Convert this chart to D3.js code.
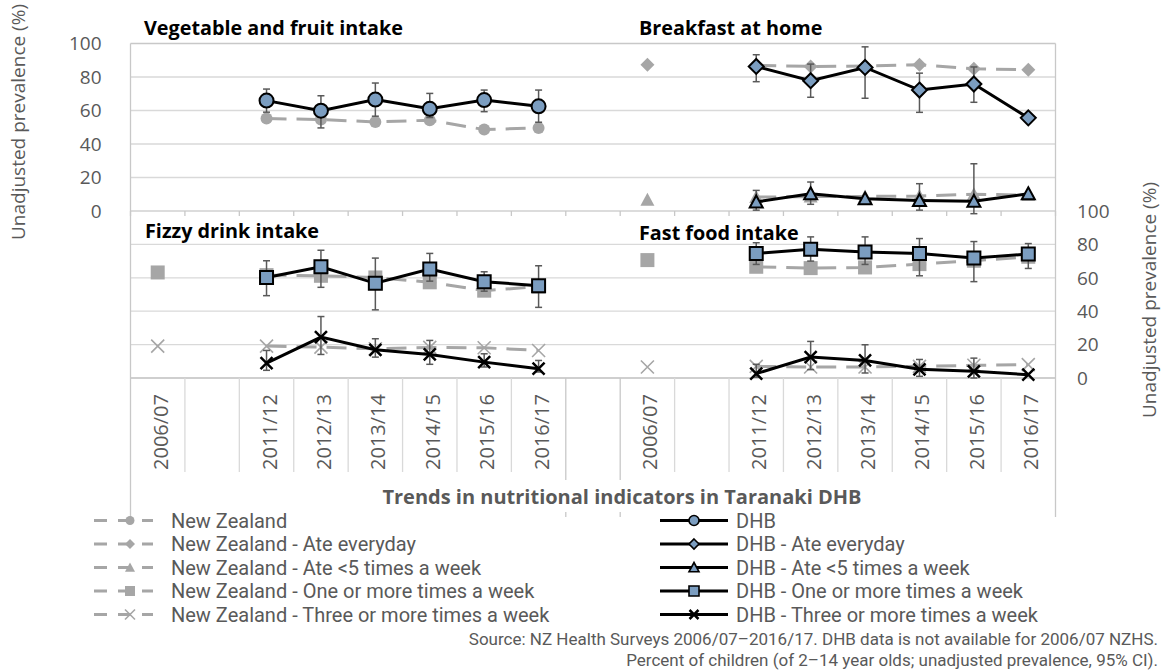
<!DOCTYPE html>
<html lang="en">
<head>
<meta charset="UTF-8">
<title>Trends in nutritional indicators in Taranaki DHB</title>
<style>
    body { margin: 0; background: #fff; }
    text { font-family: "Open Sans", "Noto Sans", sans-serif; }
    .legend text, .note text { font-family: Roboto, "Open Sans", sans-serif; }
</style>
</head>
<body>
<svg id="chart"></svg>
<script src="https://cdn.jsdelivr.net/npm/d3@7"></script>
<script>
// Category axis: two groups of survey years, "" = empty spacer slot
var xLabels = ["2006/07", "", "2011/12", "2012/13", "2013/14", "2014/15", "2015/16", "2016/17", "",
               "2006/07", "", "2011/12", "2012/13", "2013/14", "2014/15", "2015/16", "2016/17"];
var years = ["2006/07", "2011/12", "2012/13", "2013/14", "2014/15", "2015/16", "2016/17"];
var leftSlots = [0, 2, 3, 4, 5, 6, 7];
var rightSlots = [9, 11, 12, 13, 14, 15, 16];
var yTicks = [0, 20, 40, 60, 80, 100];

// Vegetable and fruit intake
var vegNZ = [null, 55.2, 54.6, 53.2, 54.2, 48.6, 49.6];
var vegDHB = [null, 65.9, 59.9, 66.5, 61.0, 66.2, 62.5];
var vegLo = [null, 59.0, 49.6, 56.6, 55.8, 59.3, 53.0];
var vegHi = [null, 72.8, 68.8, 76.4, 70.2, 72.2, 72.2];

// Breakfast at home
var everydayNZ = [87.3, 87.0, 86.3, 86.5, 87.3, 84.9, 84.3];
var everydayDHB = [null, 86.3, 77.8, 85.7, 72.2, 75.8, 55.6];
var everydayLo = [null, 77.2, 67.9, 67.3, 58.9, 64.9, null];
var everydayHi = [null, 93.3, 87.7, 98.0, 82.3, 86.0, null];
var under5NZ = [6.7, 8.3, 8.6, 8.7, 8.9, 10.0, 9.5];
var under5DHB = [null, 5.4, 10.3, 7.3, 6.3, 5.8, 10.3];
var under5Lo = [null, 0.5, 4.0, null, 0.5, -1.6, null];
var under5Hi = [null, 12.3, 17.3, null, 16.3, 28.2, null];

// Fizzy drink intake
var fizzyOneNZ = [63.2, 61.6, 61.2, 60.2, 57.3, 52.3, 54.7];
var fizzyOneDHB = [null, 60.2, 66.6, 56.7, 65.2, 57.7, 55.3];
var fizzyOneLo = [null, 49.3, 54.3, 40.8, 58.0, 52.0, 42.3];
var fizzyOneHi = [null, 70.2, 76.5, 71.8, 74.6, 63.6, 67.2];
var fizzyThreeNZ = [19.1, 19.1, 18.5, 17.5, 18.3, 18.1, 16.5];
var fizzyThreeDHB = [null, 8.9, 24.5, 16.9, 14.1, 9.5, 5.6];
var fizzyThreeLo = [null, 4.6, 14.1, 12.5, 8.2, 6.6, 3.6];
var fizzyThreeHi = [null, 16.5, 36.8, 23.5, 22.5, 14.5, 10.5];

// Fast food intake
var fastOneNZ = [70.6, 66.6, 65.8, 66.2, 68.2, 70.2, 72.6];
var fastOneDHB = [null, 74.6, 77.1, 75.5, 74.6, 71.8, 74.2];
var fastOneLo = [null, 68.0, 70.0, 68.0, 61.2, 57.7, 65.6];
var fastOneHi = [null, 81.0, 84.5, 84.5, 83.5, 81.7, 80.5];
var fastThreeNZ = [6.6, 7.0, 6.6, 6.6, 7.0, 7.6, 8.0];
var fastThreeDHB = [null, 2.6, 12.5, 10.5, 5.2, 4.0, 2.0];
var fastThreeLo = [null, 0.5, 5.0, 3.0, 1.0, 0.0, null];
var fastThreeHi = [null, 8.2, 21.9, 19.9, 11.1, 11.9, null];

var legendShapes = ["circle", "diamond", "triangle", "square", "cross"];
var legendNZ = ["New Zealand", "New Zealand - Ate everyday", "New Zealand - Ate <5 times a week",
                "New Zealand - One or more times a week", "New Zealand - Three or more times a week"];
var legendDHB = ["DHB", "DHB - Ate everyday", "DHB - Ate <5 times a week",
                 "DHB - One or more times a week", "DHB - Three or more times a week"];

var width = 1163, height = 670;
var grey = "#595959", nzColor = "#a6a6a6", dhbFill = "#7b9dc0";

var svg = d3.select("#chart").attr("width", width).attr("height", height);
svg.append("rect").attr("width", width).attr("height", height).attr("fill", "#fff");

var x = d3.scaleBand().domain(d3.range(xLabels.length)).range([130.5, 1055.5]);
var yTop = d3.scaleLinear().domain([0, 100]).range([211, 43.5]);
var yBot = d3.scaleLinear().domain([0, 100]).range([378, 211]);
var cx = function (slot) { return x(slot) + x.bandwidth() / 2; };

var panels = [
    { title: "Vegetable and fruit intake", tx: 144, ty: 35, slots: leftSlots, y: yTop,
      series: [{ shape: "circle", nz: vegNZ, dhb: vegDHB, lo: vegLo, hi: vegHi }] },
    { title: "Breakfast at home", tx: 639, ty: 35, slots: rightSlots, y: yTop,
      series: [{ shape: "diamond", nz: everydayNZ, dhb: everydayDHB, lo: everydayLo, hi: everydayHi },
               { shape: "triangle", nz: under5NZ, dhb: under5DHB, lo: under5Lo, hi: under5Hi }] },
    { title: "Fizzy drink intake", tx: 145, ty: 238, slots: leftSlots, y: yBot,
      series: [{ shape: "square", nz: fizzyOneNZ, dhb: fizzyOneDHB, lo: fizzyOneLo, hi: fizzyOneHi },
               { shape: "cross", nz: fizzyThreeNZ, dhb: fizzyThreeDHB, lo: fizzyThreeLo, hi: fizzyThreeHi }] },
    { title: "Fast food intake", tx: 639, ty: 240, slots: rightSlots, y: yBot,
      series: [{ shape: "square", nz: fastOneNZ, dhb: fastOneDHB, lo: fastOneLo, hi: fastOneHi },
               { shape: "cross", nz: fastThreeNZ, dhb: fastThreeDHB, lo: fastThreeLo, hi: fastThreeHi }] }
];

// marker outlines
function shapePath(type, s) {
    if (type == "circle") return d3.symbol(d3.symbolCircle, Math.PI * s * s)();
    if (type == "square") return "M" + -s + "," + -s + "H" + s + "V" + s + "H" + -s + "Z";
    if (type == "diamond") return "M0," + -s + "L" + s + ",0L0," + s + "L" + -s + ",0Z";
    if (type == "triangle") return "M0," + -s + "L" + s + "," + s * 0.85 + "L" + -s + "," + s * 0.85 + "Z";
    return "M" + -s + "," + -s + "L" + s + "," + s + "M" + -s + "," + s + "L" + s + "," + -s;
}
var nzSize = { circle: 6, square: 7, diamond: 7, triangle: 7, cross: 6.5 };
var dhbSize = { circle: 7, square: 6.5, diamond: 7.5, triangle: 6.5, cross: 6 };

function drawMarker(g, type, px, py, s, isDHB, sw) {
    var p = g.append("path").attr("d", shapePath(type, s))
        .attr("transform", "translate(" + px + "," + py + ")");
    if (type == "cross") {
        p.attr("fill", "none").attr("stroke", isDHB ? "#000" : nzColor).attr("stroke-width", isDHB ? 2.5 : 1.6);
    } else if (isDHB) {
        p.attr("fill", dhbFill).attr("stroke", "#000").attr("stroke-width", sw || 2);
    } else {
        p.attr("fill", nzColor);
    }
}

// ---- gridlines and frame ----
var grid = svg.append("g");
yTicks.slice(1, 5).forEach(function (t) {
    [yTop, yBot].forEach(function (y) {
        grid.append("line").attr("x1", 130.5).attr("x2", 1055.5)
            .attr("y1", y(t)).attr("y2", y(t)).attr("stroke", "#d9d9d9").attr("stroke-width", 1.3);
    });
});
grid.append("line").attr("x1", 130.5).attr("x2", 1055.5).attr("y1", yTop(0)).attr("y2", yTop(0))
    .attr("stroke", "#d0d0d0").attr("stroke-width", 1.3);
grid.append("line").attr("x1", 130.5).attr("x2", 1055.5).attr("y1", yTop(100)).attr("y2", yTop(100))
    .attr("stroke", "#c8c8c8").attr("stroke-width", 1.3);
grid.append("line").attr("x1", 130.5).attr("x2", 1055.5).attr("y1", yBot(0)).attr("y2", yBot(0))
    .attr("stroke", "#bfbfbf").attr("stroke-width", 1.5);

// category boundaries: short ticks at the middle axis, separators under the bottom axis
var bounds = d3.range(xLabels.length + 1);
var outer = [0, 8, 9, xLabels.length];
bounds.forEach(function (b) {
    var bx = b < xLabels.length ? x(b) : x.range()[1];
    grid.append("line").attr("x1", bx).attr("x2", bx).attr("y1", yTop(0)).attr("y2", yTop(0) + 5)
        .attr("stroke", "#c8c8c8").attr("stroke-width", 1.3);
    var isOuter = outer.indexOf(b) >= 0;
    grid.append("line").attr("x1", bx).attr("x2", bx)
        .attr("y1", (b == 0 || b == xLabels.length) ? yTop(100) : yBot(0))
        .attr("y2", isOuter ? 517 : 472)
        .attr("stroke", isOuter ? "#c8c8c8" : "#d9d9d9").attr("stroke-width", 1.3);
});

// ---- axis labels ----
var axisText = svg.append("g").attr("fill", grey).style("font-size", "19px");
yTicks.forEach(function (t) {
    axisText.append("text").attr("x", 101.5).attr("y", yTop(t)).attr("dy", "0.36em")
        .attr("text-anchor", "end").text(t);
    axisText.append("text").attr("x", 1077).attr("y", yBot(t)).attr("dy", "0.36em")
        .attr("text-anchor", "start").text(t);
});
axisText.append("text").attr("transform", "translate(25,122) rotate(-90)")
    .attr("text-anchor", "middle").text("Unadjusted prevalence (%)");
axisText.append("text").attr("transform", "translate(1156,300) rotate(-90)")
    .attr("text-anchor", "middle").text("Unadjusted prevalence (%)");

xLabels.forEach(function (lab, i) {
    if (!lab) return;
    svg.append("text").attr("transform", "translate(" + (cx(i) + 10) + ",394) rotate(-90)")
        .attr("text-anchor", "end").attr("fill", grey).style("font-size", "20px").text(lab);
});

// ---- series ----
var plot = svg.append("g");
panels.forEach(function (p) {
    var y = p.y;
    p.series.forEach(function (s) {
        var nzPts = years.map(function (yr, i) { return { i: i, x: cx(p.slots[i]), v: s.nz[i] }; })
            .filter(function (d) { return d.v != null; });
        var dhbPts = years.map(function (yr, i) {
            return { i: i, x: cx(p.slots[i]), v: s.dhb[i], lo: s.lo[i], hi: s.hi[i] };
        }).filter(function (d) { return d.v != null; });

        var line = d3.line().x(function (d) { return d.x; }).y(function (d) { return y(d.v); });

        // New Zealand: dashed grey, 2006/07 stands alone
        plot.append("path").datum(nzPts.filter(function (d) { return d.i > 0; }))
            .attr("d", line).attr("fill", "none").attr("stroke", nzColor)
            .attr("stroke-width", 3).attr("stroke-dasharray", "20,10");
        nzPts.forEach(function (d) { drawMarker(plot, s.shape, d.x, y(d.v), nzSize[s.shape], false); });

        // DHB error bars (95% CI)
        dhbPts.forEach(function (d) {
            [d.lo, d.hi].forEach(function (e) {
                if (e == null) return;
                plot.append("line").attr("x1", d.x).attr("x2", d.x).attr("y1", y(d.v)).attr("y2", y(e))
                    .attr("stroke", grey).attr("stroke-width", 1.5);
                plot.append("line").attr("x1", d.x - 3.5).attr("x2", d.x + 3.5).attr("y1", y(e)).attr("y2", y(e))
                    .attr("stroke", grey).attr("stroke-width", 1.5);
            });
        });

        plot.append("path").datum(dhbPts).attr("d", line).attr("fill", "none")
            .attr("stroke", "#000").attr("stroke-width", 3);
        dhbPts.forEach(function (d) { drawMarker(plot, s.shape, d.x, y(d.v), dhbSize[s.shape], true); });
    });

    svg.append("text").attr("x", p.tx).attr("y", p.ty).attr("fill", "#000")
        .style("font-size", "19.8px").style("font-weight", "bold").text(p.title);
});

// ---- title ----
svg.append("rect").attr("x", 375).attr("y", 480).attr("width", 495).attr("height", 32).attr("fill", "#fff");
svg.append("text").attr("x", 622).attr("y", 504).attr("text-anchor", "middle").attr("fill", grey)
    .style("font-size", "20px").style("font-weight", "bold")
    .text("Trends in nutritional indicators in Taranaki DHB");

// ---- legend ----
var legend = svg.append("g").attr("class", "legend").style("font-size", "20px").attr("fill", grey);
var rowY = [520.5, 544, 567.5, 591, 614.5];
legendShapes.forEach(function (shape, i) {
    var ly = rowY[i];
    legend.append("line").attr("x1", 94).attr("x2", 153).attr("y1", ly).attr("y2", ly)
        .attr("stroke", nzColor).attr("stroke-width", 3).attr("stroke-dasharray", "13,11");
    drawMarker(legend, shape, 130, ly, shape == "circle" ? 4.5 : 5, false);
    legend.append("text").attr("x", 171).attr("y", ly).attr("dy", "0.355em").text(legendNZ[i]);

    legend.append("line").attr("x1", 660).attr("x2", 728).attr("y1", ly).attr("y2", ly)
        .attr("stroke", "#000").attr("stroke-width", 3);
    drawMarker(legend, shape, 694, ly, shape == "cross" ? 4.5 : 5, true, 1.6);
    legend.append("text").attr("x", 736).attr("y", ly).attr("dy", "0.355em").text(legendDHB[i]);
});

// ---- source note ----
var note = svg.append("g").attr("class", "note").style("font-size", "17px").attr("fill", grey)
    .attr("text-anchor", "end");
note.append("text").attr("x", 1158).attr("y", 644.5)
    .text("Source: NZ Health Surveys 2006/07\u20132016/17. DHB data is not available for 2006/07 NZHS.");
note.append("text").attr("x", 1158).attr("y", 665.5)
    .text("Percent of children (of 2\u201314 year olds; unadjusted prevalence, 95% CI).");
</script>
</body>
</html>
